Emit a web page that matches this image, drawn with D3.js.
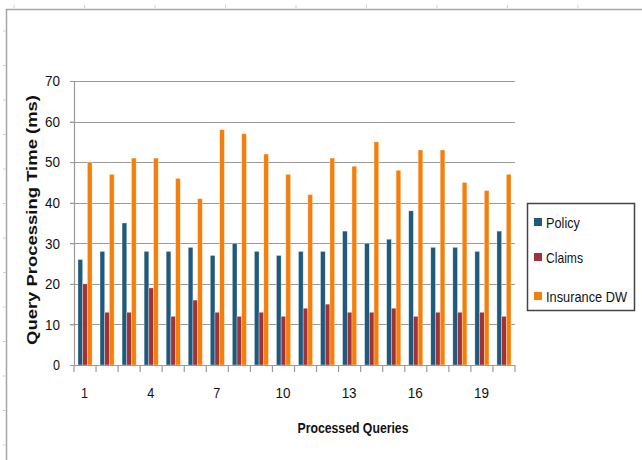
<!DOCTYPE html>
<html><head><meta charset="utf-8">
<script src="https://cdn.jsdelivr.net/npm/d3@7"></script>
<style>
html,body{margin:0;padding:0;background:#fff;}
svg{display:block;font-family:"Liberation Sans Narrow","Arial Narrow","Liberation Sans",Arial,sans-serif;}
</style></head>
<body>
<svg id="chart" width="642" height="460"></svg>
<script>
const categories = d3.range(1, 21).map(String);
const seriesNames = ["Policy", "Claims", "Insurance DW"];
const policy = [26, 28, 35, 28, 28, 29, 27, 30, 28, 27, 28, 28, 33, 30, 31, 38, 29, 29, 28, 33];
const claims = [20, 13, 13, 19, 12, 16, 13, 12, 13, 12, 14, 15, 13, 13, 14, 12, 13, 13, 13, 12];
const insuranceDW = [50, 47, 51, 51, 46, 41, 58, 57, 52, 47, 42, 51, 49, 55, 48, 53, 53, 45, 43, 47];
const yTicks = [0, 10, 20, 30, 40, 50, 60, 70];
const xTickLabels = ["1", "4", "7", "10", "13", "16", "19"];
const colors = ["#1f5a7c", "#a0323a", "#f47f0b"];

const seriesValues = [policy, claims, insuranceDW];
const svg = d3.select("#chart");

// document frame artifacts
const frame = svg.append("g");
frame.append("line").attr("x1", 6).attr("x2", 642).attr("y1", 9.5).attr("y2", 9.5)
  .attr("stroke", "#a6a6a6").attr("stroke-width", 1.5);
frame.append("line").attr("x1", 6.5).attr("x2", 6.5).attr("y1", 9).attr("y2", 460)
  .attr("stroke", "#a6a6a6").attr("stroke-width", 1.5);
d3.range(14, 642, 70.5).forEach(x => {
  frame.append("line").attr("x1", x).attr("x2", x).attr("y1", 5).attr("y2", 8)
    .attr("stroke", "#c9cde0").attr("stroke-width", 1);
});
d3.range(31, 460, 34.5).forEach(yy => {
  frame.append("line").attr("x1", 3).attr("x2", 6).attr("y1", yy).attr("y2", yy)
    .attr("stroke", "#c9cde0").attr("stroke-width", 1);
});

const pLeft = 74, pRight = 515, pTop = 81, pBottom = 365;

const x0 = d3.scaleBand().domain(categories).range([pLeft, pRight])
  .paddingInner(0.36).paddingOuter(0.18);
const x1 = d3.scaleBand().domain(seriesNames).range([0, x0.bandwidth()]);
const y = d3.scaleLinear().domain([0, 70]).range([pBottom, pTop]);

// gridlines
svg.append("g").selectAll("line").data(yTicks.filter(d => d > 0)).join("line")
  .attr("x1", pLeft - 4).attr("x2", pRight).attr("y1", d => Math.round(y(d)) + 0.5).attr("y2", d => Math.round(y(d)) + 0.5)
  .attr("stroke", "#9a9a9a").attr("stroke-width", 1.2);

// bars
const groups = svg.append("g").selectAll("g").data(seriesNames).join("g")
  .attr("fill", (d, i) => colors[i]);
groups.selectAll("rect").data((s, i) => seriesValues[i].map((v, j) => ({s, v, c: categories[j]})))
  .join("rect")
  .attr("x", d => x0(d.c) + x1(d.s))
  .attr("width", x1.bandwidth())
  .attr("y", d => y(d.v))
  .attr("height", d => pBottom - y(d.v))
  .attr("stroke", "rgba(255,255,255,0.55)").attr("stroke-width", 0.6);

// y axis
const yAxis = svg.append("g").attr("transform", `translate(${pLeft},0)`)
  .call(d3.axisLeft(y).tickValues(yTicks).tickSize(4).tickPadding(10));
yAxis.select(".domain").attr("stroke", "#9a9a9a").attr("stroke-width", 1.2);
yAxis.selectAll(".tick line").attr("stroke", "#9a9a9a");
yAxis.selectAll("text").attr("font-size", 15).attr("fill", "#111")
  .attr("textLength", d => d === 0 ? 7 : 15).attr("lengthAdjust", "spacingAndGlyphs");

// x axis
const step = x0.step();
const xTickPos = d3.range(0, categories.length + 1).map(i => pLeft + i * step);
const xa = svg.append("g");
xa.append("line").attr("x1", pLeft - 4).attr("x2", pRight).attr("y1", pBottom + 0.5).attr("y2", pBottom + 0.5)
  .attr("stroke", "#9a9a9a").attr("stroke-width", 1.2);
xa.selectAll("line.tk").data(xTickPos).join("line").attr("class", "tk")
  .attr("x1", d => d).attr("x2", d => d).attr("y1", pBottom).attr("y2", pBottom + 7)
  .attr("stroke", "#9a9a9a").attr("stroke-width", 1.2);
xa.selectAll("text").data(xTickLabels).join("text")
  .attr("x", d => x0(d) + x0.bandwidth() / 2 - 0.5)
  .attr("y", 398).attr("text-anchor", "middle").attr("font-size", 15).attr("fill", "#111")
  .attr("textLength", d => d.length === 1 ? 7 : 15).attr("lengthAdjust", "spacingAndGlyphs")
  .text(d => d);

// axis titles
svg.append("text").attr("x", 353).attr("y", 433).attr("text-anchor", "middle")
  .attr("font-size", 15).attr("font-weight", "bold").attr("fill", "#111")
  .attr("textLength", 111).attr("lengthAdjust", "spacingAndGlyphs")
  .text("Processed Queries");
svg.append("text").attr("transform", "translate(37,220) rotate(-90)").attr("text-anchor", "middle")
  .attr("font-size", 15).attr("font-weight", "bold").attr("fill", "#111")
  .attr("textLength", 250).attr("lengthAdjust", "spacingAndGlyphs")
  .text("Query Processing Time  (ms)");

// legend
const lg = svg.append("g");
lg.append("rect").attr("x", 527.5).attr("y", 203.5).attr("width", 107).attr("height", 107)
  .attr("fill", "#fff").attr("stroke", "#444").attr("stroke-width", 1.5);
const rowsY = [223, 258, 297];
const legendLens = [34, 37, 81];
seriesNames.forEach((n, i) => {
  lg.append("rect").attr("x", 534).attr("y", rowsY[i] - 5).attr("width", 8).attr("height", 8).attr("fill", colors[i]);
  lg.append("text").attr("x", 546).attr("y", rowsY[i] + 5).attr("font-size", 15).attr("fill", "#111")
    .attr("textLength", legendLens[i]).attr("lengthAdjust", "spacingAndGlyphs").text(n);
});
</script>
</body></html>
